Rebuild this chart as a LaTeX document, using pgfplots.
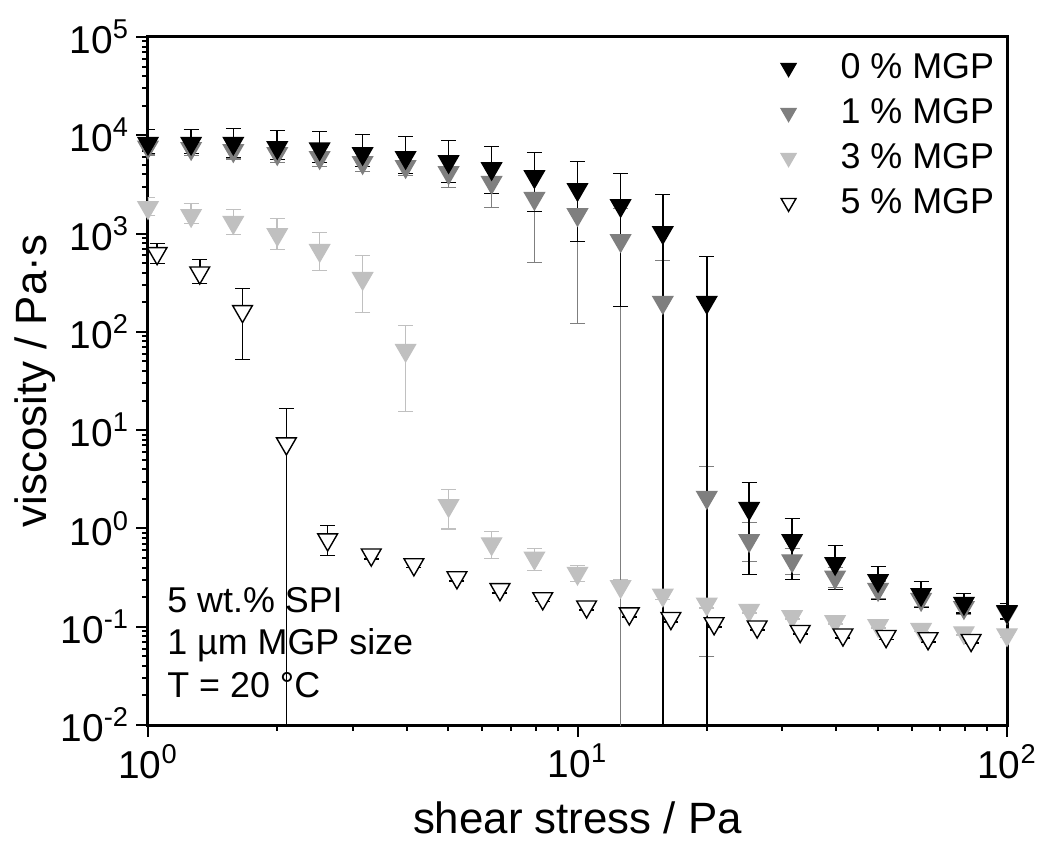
\documentclass[border=0pt]{standalone}
\usepackage{fontspec}
\setmainfont{Liberation Sans}
\usepackage{pgfplots}
\usepackage{pgfplotstable}
\pgfplotsset{compat=1.18}

\definecolor{gA}{HTML}{7F7F7F}
\definecolor{gB}{HTML}{C0C0C0}

\pgfplotstableread{
x     y      ylo     yhi
1.0   8300   6530    11460
1.26  8300   6530    11460
1.58  8300   5950    11720
2.0   7500   5670    11190
2.51  7300   5290    10940
3.16  6530   4820    10190
3.98  5950   4080    9730
5.01  5400   3310    8850
6.31  4590   2560    7690
7.94  3800   1680    6680
10.0  2810   830     5410
12.6  1930   181     4080
15.8  1025   0.001   2500
20.0  200    0.001   585
25.1  1.6    0.34    2.94
31.6  0.755  0.303   1.26
39.8  0.44   0.24    0.672
50.1  0.295  0.19    0.41
63.1  0.213  0.157   0.289
79.4  0.173  0.137   0.218
100   0.143  0.119   0.173
}\tzero

\pgfplotstableread{
x     y      ylo     yhi
1.0   7600   6300    9500
1.26  7350   6200    9000
1.58  7000   5700    8800
2.0   6530   5300    8200
2.51  5950   4800    7600
3.16  5290   4300    6800
3.98  4820   3900    6200
5.01  4170   2940    5600
6.31  3320   1840    4700
7.94  2280   508     4100
10.0  1560   122     3000
12.6  850    0.001   1800
15.8  200    0.001   532
20.0  2.07   0.05    4.27
25.1  0.755  0.46    1.15
31.6  0.47   0.34    0.626
39.8  0.32   0.25    0.40
50.1  0.24   0.194   0.29
63.1  0.19   0.16    0.23
79.4  0.157  0.135   0.18
100   0.14   0.12    0.16
}\tone

\pgfplotstableread{
x     y      ylo     yhi
1.0   1840   1530    2330
1.26  1530   1270    2020
1.58  1300   980     1760
2.0   980    689     1425
2.51  675    422     1025
3.16  350    157     598
3.98  65     15.5    116
5.01  1.71   0.98    2.49
6.31  0.70   0.495   0.93
7.94  0.50   0.374   0.626
10.0  0.35   0.289   0.42
12.6  0.257  0.001   0.303
15.8  0.21   0.19    0.23
20.0  0.17   0.155   0.185
25.1  0.147  0.137   0.157
31.6  0.127  0.119   0.135
39.8  0.113  0.106   0.120
50.1  0.103  0.097   0.109
63.1  0.094  0.089   0.099
79.4  0.087  0.082   0.092
100   0.083  0.078   0.088
}\tthree

\pgfplotstableread{
x     y      ylo     yhi
1.05  630    496     793
1.32  400    311     545
1.66  162    52.4    276
2.10  7.3    0.001   16.6
2.62  0.77   0.53    1.07
3.31  0.54   0.49    0.58
4.16  0.43   0.40    0.46
5.24  0.317  0.29    0.34
6.6   0.24   0.22    0.26
8.3   0.194  0.18    0.21
10.5  0.16   0.148   0.172
13.2  0.136  0.126   0.146
16.5  0.122  0.112   0.132
20.8  0.108  0.100   0.116
26.2  0.100  0.093   0.107
33.0  0.090  0.084   0.096
41.5  0.083  0.077   0.089
52.3  0.080  0.074   0.086
65.5  0.076  0.070   0.082
82.5  0.073  0.068   0.078
}\tfive

\pgfplotsset{
  ebar/.style={
    error bars/.cd, y dir=both, y explicit,
    error bar style={line width=0.8bp, color=#1},
    error mark options={rotate=90, mark size=3.75bp, line width=0.8bp, color=#1},
  },
  tri/.style 2 args={only marks, mark=triangle*, mark size=5.7bp,
    mark options={rotate=180, fill=#1, draw=#2, line width=0.7bp}},
  legimg/.style={legend image code/.code={%
    \path[draw=none, fill=none] (-6bp,0bp) -- (24bp,0bp);
    \draw[##1] plot[only marks, mark size=4.3bp] coordinates {(0bp,0bp)};}},
}

\begin{document}
\begin{tikzpicture}
\begin{axis}[
  name=ax,
  scale only axis,
  width=429.5bp, height=344bp,
  xmode=log, ymode=log,
  xmin=1, xmax=100, ymin=0.01, ymax=100000,
  axis line style={line width=1.5bp},
  tick style={line width=1bp, black},
  tick align=outside,
  tick pos=left,
  major tick length=6bp,
  minor tick length=3bp,
  xtick={1,10,100},
  xticklabels={10\textsuperscript{0},10\textsuperscript{1},10\textsuperscript{2}},
  minor xtick={2,3,4,5,6,7,8,9,20,30,40,50,60,70,80,90},
  ytick={0.01,0.1,1,10,100,1000,10000,100000},
  yticklabels={10\textsuperscript{-2},10\textsuperscript{-1},10\textsuperscript{0},10\textsuperscript{1},10\textsuperscript{2},10\textsuperscript{3},10\textsuperscript{4},10\textsuperscript{5}},
  minor ytick={0.02,0.03,0.04,0.05,0.06,0.07,0.08,0.09,0.2,0.3,0.4,0.5,0.6,0.7,0.8,0.9,2,3,4,5,6,7,8,9,20,30,40,50,60,70,80,90,200,300,400,500,600,700,800,900,2000,3000,4000,5000,6000,7000,8000,9000,20000,30000,40000,50000,60000,70000,80000,90000},
  ticklabel style={font=\fontsize{19.5}{19.5}\selectfont},
  xlabel={shear stress / Pa},
  ylabel={viscosity / Pa·s},
  label style={font=\fontsize{22}{22}\selectfont},
  xlabel style={at={(axis description cs:0.5,-0.157)}, anchor=base},
  ylabel style={at={(axis description cs:-0.1176,0.5)}, anchor=base},
  legend style={at={(rel axis cs:0.99,0.982)}, anchor=north east, draw=none, fill=none,
    font=\fontsize{18}{18}\selectfont, row sep=4.5bp, inner sep=0pt},
  legend cell align=left,
]
\addlegendimage{tri={black}{black}, legimg}
\addlegendentry{0 \% MGP}
\addlegendimage{tri={gA}{gA}, legimg}
\addlegendentry{1 \% MGP}
\addlegendimage{tri={gB}{gB}, legimg}
\addlegendentry{3 \% MGP}
\addlegendimage{tri={white}{black}, legimg}
\addlegendentry{5 \% MGP}

\addplot+[forget plot, tri={gB}{gB}, ebar=gB]
  table[x=x, y=y, y error plus expr=\thisrow{yhi}-\thisrow{y}, y error minus expr=\thisrow{y}-\thisrow{ylo}] {\tthree};
\addplot+[forget plot, tri={white}{black}, ebar=black]
  table[x=x, y=y, y error plus expr=\thisrow{yhi}-\thisrow{y}, y error minus expr=\thisrow{y}-\thisrow{ylo}] {\tfive};
\addplot+[forget plot, tri={gA}{gA}, ebar=gA]
  table[x=x, y=y, y error plus expr=\thisrow{yhi}-\thisrow{y}, y error minus expr=\thisrow{y}-\thisrow{ylo}] {\tone};
\addplot+[forget plot, tri={black}{black}, ebar=black]
  table[x=x, y=y, y error plus expr=\thisrow{yhi}-\thisrow{y}, y error minus expr=\thisrow{y}-\thisrow{ylo}] {\tzero};

\node[anchor=north west, align=left, inner sep=0pt, font=\fontsize{18}{21.5}\selectfont]
  at (rel axis cs:0.022,0.201) {5 wt.\% SPI\\1 µm MGP size\\T = 20 °C};
\end{axis}
\pgfresetboundingbox
\path[use as bounding box] ([shift={(-74bp,-58bp)}]ax.south west) rectangle ([shift={(20.5bp,18.5bp)}]ax.north east);
\end{tikzpicture}
\end{document}
